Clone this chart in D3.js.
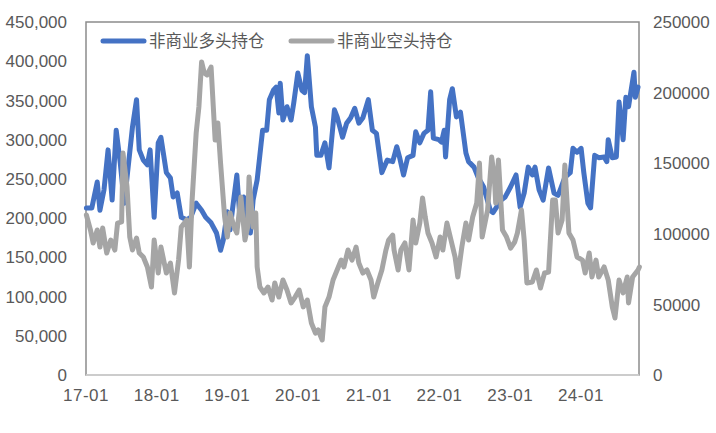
<!DOCTYPE html>
<html><head><meta charset="utf-8">
<script src="https://cdn.jsdelivr.net/npm/d3@7/dist/d3.min.js"></script>
<style>
html,body{margin:0;padding:0;background:#fff;}
svg text{font-family:"Liberation Sans","Noto Sans CJK SC",sans-serif;fill:#595959;}
</style></head>
<body><svg id="c" width="716" height="433"></svg>
<script>
// weeks since 2017-01-03 (weekly report), values in contracts
const seriesNames = ["非商业多头持仓", "非商业空头持仓"];
const longWeek = [0,4,8,10,13,16,19,22,25,28,30,34,37,39,42,45,47,50,53,55,59,62,64,67,70,74,77,81,85,88,92,96,99,
101,104,106,108,111,113,116,119,121,123,126,130,133,135,138,140,142,143,145,148,151,153,156,159,161,163,166,169,170,173,176,179,183,185,189,192,195,198,201,204,208,211,214,218,222,226,229,231,234,237,241,243,246,249,252,254,256,260,262,264,265,268,270,273,276,280,282,286,289,293,298,300,306,309,313,317,320,323,326,329,331,334,337,341,345,348,350,353,357,359,362,365,367,370,372,375,378,382,384,385,388,391,393,396,398,400,404,405,407];
const longPos = [213000,213000,246000,210000,236000,287000,223000,312000,270000,219000,252000,316000,351000,287000,274000,268000,287000,201000,296000,303000,258000,251000,227000,232000,201000,198000,201000,219000,210000,201000,194000,181000,159000,
172000,208000,185000,214000,255000,207000,227000,198000,181000,223000,249000,312000,312000,351000,363000,367000,334000,372000,325000,342000,325000,347000,385000,363000,360000,407000,342000,316000,280000,280000,296000,264000,338000,329000,303000,321000,328000,340000,321000,328000,351000,312000,308000,258000,274000,272000,291000,278000,255000,277000,280000,310000,296000,308000,312000,361000,302000,300000,297000,312000,278000,351000,365000,329000,335000,283000,272000,265000,252000,240000,210000,207000,223000,227000,240000,255000,214000,232000,265000,255000,265000,236000,223000,264000,232000,229000,238000,252000,258000,289000,284000,289000,258000,219000,213000,280000,277000,278000,272000,300000,277000,278000,348000,300000,354000,342000,386000,354000,367000];
const shortWeek = [0,3,5,8,10,12,15,18,21,23,26,27,30,32,34,37,39,42,45,48,50,53,55,59,62,65,68,70,74,76,78,81,83,85,87,89,92,95,97,99,
102,104,106,109,111,114,117,119,120,123,125,126,128,131,134,137,139,142,145,148,151,154,157,160,163,166,169,171,174,176,179,182,185,188,190,193,196,199,201,204,207,210,212,215,218,221,223,226,227,230,232,235,238,241,243,246,248,250,252,255,258,261,263,266,269,272,274,277,280,282,285,288,290,292,296,299,301,302,304,307,310,313,316,318,321,323,325,329,332,335,338,341,344,346,348,351,353,356,359,362,366,368,371,373,376,378,382,385,388,390,393,396,399,400,403,407,408];
const shortPos = [113300,102700,93500,102700,90600,104100,86400,95600,88500,107600,108400,157200,133100,97700,88500,97000,86400,83600,76500,62300,95600,72200,90600,72200,79300,58100,81400,104800,109800,76500,123900,171400,189800,221700,213900,212500,218100,166400,178500,150000,
111900,97700,114700,104800,100600,126100,95600,104800,140200,104800,114700,76500,62300,58100,62300,53100,65200,55200,67300,60200,51000,55200,60200,48200,53100,36800,29700,31900,24800,48200,55200,67300,74400,81400,76500,88500,81400,90600,79300,72200,74400,67300,55200,65200,74400,88500,95600,99100,88500,74400,88500,93500,74400,109800,93500,107600,125400,111900,100600,93500,83600,97700,88500,107600,95600,83600,69400,90600,107600,95600,111900,121800,150100,97700,116900,154400,140200,121800,152300,102700,97700,89900,94200,100600,116900,95600,65200,65900,74400,61600,72200,72900,123900,123900,100600,109800,148700,100600,95600,83600,81400,72200,86400,69400,81400,69400,76500,67300,48200,40400,67300,58100,69400,51000,69400,74400,76500];
const leftTicks = [0,50000,100000,150000,200000,250000,300000,350000,400000,450000];
const rightTicks = [0,50000,100000,150000,200000,250000];
const xTickYears = [2017,2018,2019,2020,2021,2022,2023,2024];

const base = new Date(2017,0,3);
const wk = w => new Date(base.getTime() + w*7*86400000);
const longData = longWeek.map((w,i)=>({d:wk(w), v:longPos[i]}));
const shortData = shortWeek.map((w,i)=>({d:wk(w), v:shortPos[i]}));

const svg = d3.select("#c");
const L=86, R=639, T=22, B=375;
const x = d3.scaleTime().domain([new Date(2017,0,1), new Date(2024,9,27)]).range([L,R]);
const yL = d3.scaleLinear().domain([0,450000]).range([B,T]);
const yR = d3.scaleLinear().domain([0,250000]).range([B,T]);

// frame
svg.append("rect").attr("x",L).attr("y",T).attr("width",R-L).attr("height",B-T)
  .attr("fill","none").attr("stroke","#8c8c8c").attr("stroke-width",1.5);
svg.append("line").attr("x1",L).attr("x2",R).attr("y1",B).attr("y2",B).attr("stroke","#d9d9d9").attr("stroke-width",1.5);

// left axis
const fmtL = d3.format(",");
svg.append("g").selectAll("text").data(leftTicks).join("text")
  .attr("x",67).attr("y",d=>yL(d)).attr("dy","0.36em").attr("text-anchor","end")
  .attr("font-size",17).text(d=>fmtL(d));
// right axis
svg.append("g").selectAll("text").data(rightTicks).join("text")
  .attr("x",653).attr("y",d=>yR(d)).attr("dy","0.36em").attr("text-anchor","start")
  .attr("font-size",17).text(d=>d);
// x axis
const fmtX = d3.timeFormat("%y-%m");
svg.append("g").selectAll("text").data(xTickYears.map(y=>new Date(y,0,1))).join("text")
  .attr("x",d=>x(d)).attr("y",401).attr("text-anchor","middle")
  .attr("font-size",17).attr("letter-spacing","0.5px").text(d=>fmtX(d));

const lineL = d3.line().x(d=>x(d.d)).y(d=>yL(d.v));
const lineR = d3.line().x(d=>x(d.d)).y(d=>yR(d.v));
svg.append("path").datum(longData).attr("d",lineL).attr("fill","none")
  .attr("stroke","#4472C4").attr("stroke-width",5).attr("stroke-linejoin","round").attr("stroke-linecap","round");
svg.append("path").datum(shortData).attr("d",lineR).attr("fill","none")
  .attr("stroke","#A5A5A5").attr("stroke-width",5).attr("stroke-linejoin","round").attr("stroke-linecap","round");

// legend
const leg = [{x:103, c:"#4472C4"},{x:291, c:"#A5A5A5"}];
leg.forEach((l,i)=>{
  svg.append("line").attr("x1",l.x).attr("x2",l.x+41).attr("y1",41).attr("y2",41)
    .attr("stroke",l.c).attr("stroke-width",5).attr("stroke-linecap","round");
  svg.append("text").attr("x",l.x+46).attr("y",41).attr("dy","0.36em")
    .attr("font-size",16.5).text(seriesNames[i]);
});
</script></body></html>
